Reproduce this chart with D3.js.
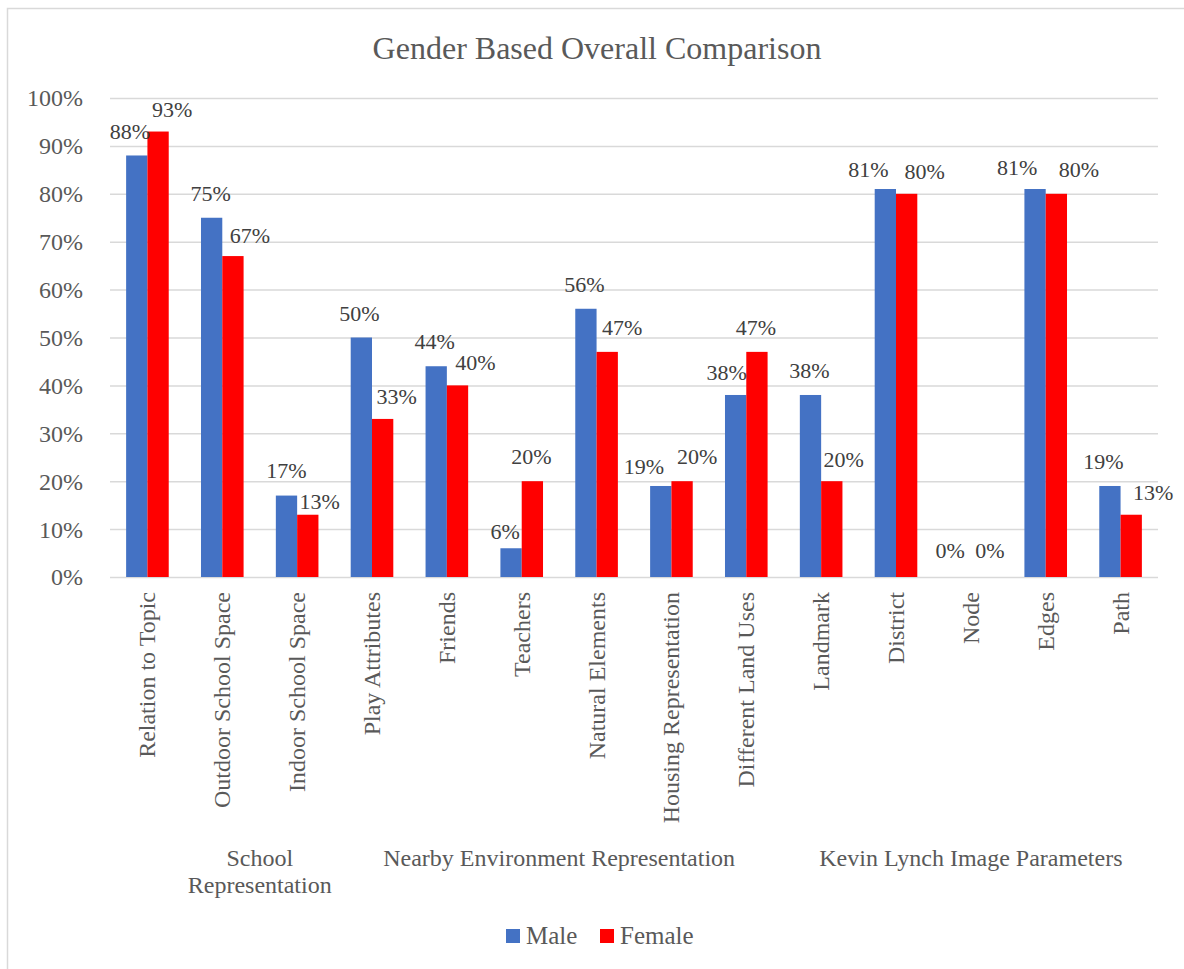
<!DOCTYPE html>
<html>
<head>
<meta charset="utf-8">
<script src="https://cdn.jsdelivr.net/npm/d3@7"></script>
<style>
  html, body { margin: 0; padding: 0; background: #ffffff; }
  svg { display: block; }
</style>
</head>
<body>
<svg id="chart" width="1184" height="969"></svg>
<script>
// ---- data ----
const categories = [
  "Relation to Topic", "Outdoor School Space", "Indoor School Space",
  "Play Attributes", "Friends", "Teachers", "Natural Elements",
  "Housing Representation", "Different Land Uses", "Landmark",
  "District", "Node", "Edges", "Path"
];
const maleValues   = [88, 75, 17, 50, 44, 6, 56, 19, 38, 38, 81, 0, 81, 19];
const femaleValues = [93, 67, 13, 33, 40, 20, 47, 20, 47, 20, 80, 0, 80, 13];
const seriesNames  = ["Male", "Female"];
const yTicks       = [0, 10, 20, 30, 40, 50, 60, 70, 80, 90, 100];

// category groups, given by first and last category of each span
const groups = [
  { lines: ["School", "Representation"], from: "Relation to Topic", to: "Play Attributes" },
  { lines: ["Nearby Environment Representation"], from: "Play Attributes", to: "Different Land Uses" },
  { lines: ["Kevin Lynch Image Parameters"], from: "Landmark", to: "Path" }
];

// ---- label placement: [horizontal shift, gap above bar top] per series ----
const labelNudge = {
  Male:   [[-7,16],[-1,16.7],[0,18],[-2,17],[-1.5,17.7],[-6,9],[-1.5,16.7],[-17,12.3],[-9,15],[-1,16.7],[-17,12.3],[-10,18.7],[-18,14],[-6.5,17.3]],
  Female: [[14,15],[17,13.3],[12,5.7],[14,15],[18,15],[-1,17],[15,17],[15,17],[-1,17],[12,14.7],[18,15],[8.4,18.7],[22.6,16.6],[22,14.7]]
};

const colors = { Male: "#4472C4", Female: "#FF0000" };
const textGray = "#595959";
const gridGray = "#D9D9D9";
const serif = "'Liberation Serif', 'Times New Roman', Times, serif";

const svg = d3.select("#chart").style("font-family", serif);

// chart frame
svg.append("rect")
  .attr("x", 7.5).attr("y", 8.5)
  .attr("width", 1200).attr("height", 1000)
  .attr("fill", "#ffffff")
  .attr("stroke", gridGray).attr("stroke-width", 1.5);

const plot = { left: 110, right: 1158, top: 98, bottom: 577 };

const x = d3.scaleBand()
  .domain(categories)
  .range([plot.left, plot.right])
  .paddingInner(0).paddingOuter(0);

const xs = d3.scaleBand()
  .domain(seriesNames)
  .range([0, x.bandwidth()])
  .paddingInner(0).paddingOuter(0.757);

const y = d3.scaleLinear().domain([0, 100]).range([plot.bottom, plot.top]);

// title
svg.append("text")
  .attr("x", 597).attr("y", 59)
  .attr("text-anchor", "middle")
  .style("fill", textGray)
  .style("font-family", serif)
  .style("font-size", "32px")
  .text("Gender Based Overall Comparison");

// gridlines + y tick labels via axis
const yAxis = d3.axisLeft(y)
  .tickValues(yTicks)
  .tickSize(-(plot.right - plot.left))
  .tickPadding(27)
  .tickFormat(d => d + "%");

const yg = svg.append("g")
  .attr("transform", `translate(${plot.left},0)`)
  .call(yAxis)
  .attr("font-family", null)
  .attr("font-size", null);
yg.select(".domain").remove();
yg.selectAll(".tick line")
  .attr("stroke", gridGray).attr("stroke-width", 1.5);
yg.selectAll(".tick text")
  .attr("dy", "0.33em")
  .style("fill", textGray)
  .style("font-family", serif)
  .style("font-size", "24px");

// bars
const rows = categories.map((c, i) => ({
  cat: c, i,
  vals: [
    { s: "Male", v: maleValues[i] },
    { s: "Female", v: femaleValues[i] }
  ]
}));

const cg = svg.append("g").selectAll("g")
  .data(rows).join("g")
  .attr("transform", d => `translate(${x(d.cat)},0)`);

cg.selectAll("rect")
  .data(d => d.vals)
  .join("rect")
  .attr("x", d => xs(d.s))
  .attr("width", xs.bandwidth())
  .attr("y", d => y(d.v))
  .attr("height", d => y(0) - y(d.v))
  .attr("fill", d => colors[d.s]);

// value labels
cg.selectAll("text.val")
  .data(d => d.vals.map(v => ({ ...v, i: d.i })))
  .join("text")
  .attr("class", "val")
  .attr("x", d => xs(d.s) + xs.bandwidth() / 2 + labelNudge[d.s][d.i][0])
  .attr("y", d => y(d.v) - labelNudge[d.s][d.i][1])
  .attr("text-anchor", "middle")
  .style("fill", "#404040")
  .style("font-family", serif)
  .style("font-size", "22px")
  .text(d => d.v + "%");

// category labels (rotated)
svg.append("g").selectAll("text")
  .data(categories).join("text")
  .attr("transform", d => `translate(${x(d) + x.bandwidth() / 2 + 8},592) rotate(-90)`)
  .attr("text-anchor", "end")
  .style("fill", textGray)
  .style("font-family", serif)
  .style("font-size", "24px")
  .text(d => d);

// group labels
const gl = svg.append("g").selectAll("text")
  .data(groups).join("text")
  .attr("text-anchor", "middle")
  .style("fill", textGray)
  .style("font-family", serif)
  .style("font-size", "24px")
  .attr("transform", d => {
    const cx = (x(d.from) + x(d.to) + x.bandwidth()) / 2;
    return `translate(${cx},866)`;
  });
gl.selectAll("tspan")
  .data(d => d.lines).join("tspan")
  .attr("x", 0)
  .attr("dy", (d, i) => i === 0 ? 0 : 27)
  .text(d => d);

// legend
const legend = svg.append("g").attr("transform", "translate(506,944)");
const legendX = { Male: 0, Female: 94 };
const li = legend.selectAll("g").data(seriesNames).join("g")
  .attr("transform", d => `translate(${legendX[d]},0)`);
li.append("rect")
  .attr("x", 0).attr("y", -15)
  .attr("width", 14).attr("height", 14)
  .attr("fill", d => colors[d]);
li.append("text")
  .attr("x", 20).attr("y", 0)
  .style("fill", textGray)
  .style("font-family", serif)
  .style("font-size", "25px")
  .text(d => d);
</script>
</body>
</html>
